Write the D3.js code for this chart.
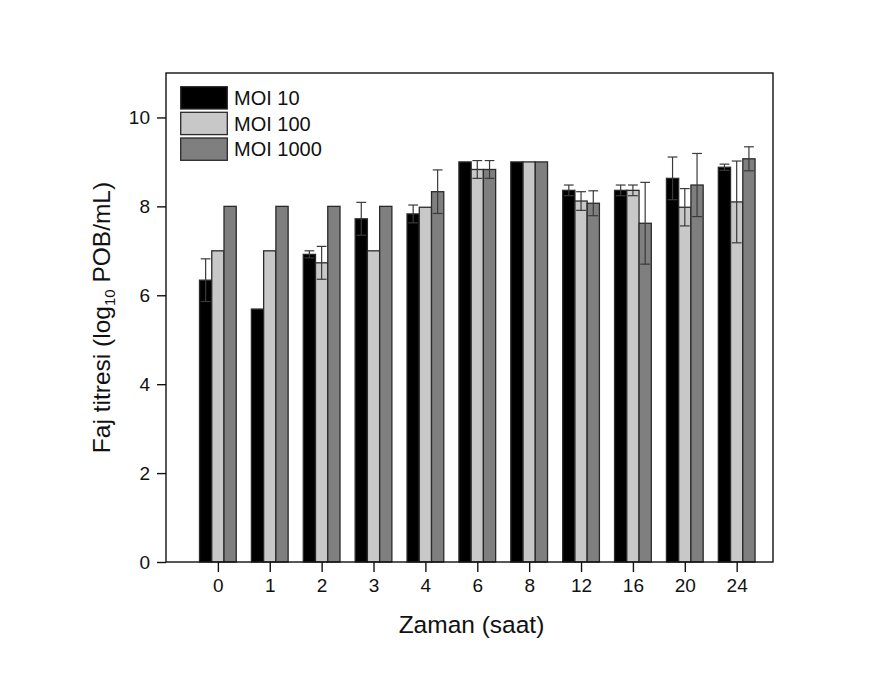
<!DOCTYPE html>
<html>
<head>
<meta charset="utf-8">
<script src="https://cdn.jsdelivr.net/npm/d3@7"></script>
<style>
  html, body { margin: 0; padding: 0; background: #fff; }
  svg { display: block; font-family: "Liberation Sans", Arial, sans-serif; }
</style>
</head>
<body>
<svg id="chart" width="886" height="673"></svg>
<script>
// ---- data ----
const categories = ["0", "1", "2", "3", "4", "6", "8", "12", "16", "20", "24"];
const seriesNames = ["MOI 10", "MOI 100", "MOI 1000"];
const moi10     = [6.34, 5.69, 6.92, 7.72, 7.83, 9.00, 9.00, 8.36, 8.36, 8.63, 8.88];
const moi10Err  = [0.48, 0,    0.08, 0.37, 0.20, 0,    0,    0.12, 0.12, 0.48, 0.07];
const moi100    = [7.00, 7.00, 6.73, 7.00, 7.98, 8.83, 9.00, 8.12, 8.36, 7.98, 8.10];
const moi100Err = [0,    0,    0.37, 0,    0,    0.20, 0,    0.21, 0.12, 0.42, 0.92];
const moi1000   = [8.00, 8.00, 8.00, 8.00, 8.33, 8.83, 9.00, 8.07, 7.62, 8.48, 9.07];
const moi1000Err= [0,    0,    0,    0,    0.49, 0.20, 0,    0.28, 0.92, 0.71, 0.27];
const yTicks = [0, 2, 4, 6, 8, 10];
const xTitle = "Zaman (saat)";

const seriesValues = [moi10, moi100, moi1000];
const seriesErrors = [moi10Err, moi100Err, moi1000Err];
const seriesColors = ["#000000", "#c8c8c8", "#7f7f7f"];

// ---- layout ----
const L = 166, R = 773, T = 73, B = 562;
const svg = d3.select("#chart");

const x = d3.scaleLinear().domain([0, 11.7]).range([L, R]);
const y = d3.scaleLinear().domain([0, 11]).range([B, T]);
const step = x(1) - x(0);
const barW = step * 0.236;

// bars
const bars = [];
categories.forEach((c, i) => {
  seriesValues.forEach((vals, s) => {
    bars.push({ i, s, v: vals[i], e: seriesErrors[s][i] });
  });
});

const g = svg.append("g");
g.selectAll("rect.bar").data(bars).enter().append("rect")
  .attr("class", "bar")
  .attr("x", d => x(d.i + 1) + (d.s - 1.5) * barW)
  .attr("width", barW)
  .attr("y", d => y(d.v))
  .attr("height", d => y(0) - y(d.v))
  .attr("fill", d => seriesColors[d.s])
  .attr("stroke", "#2a2a2a")
  .attr("stroke-width", 1.3);

// error bars
const errs = bars.filter(d => d.e > 0);
const capW = barW * 0.8;
const eg = g.selectAll("g.err").data(errs).enter().append("g").attr("class", "err")
  .attr("stroke", "#3a3a3a").attr("stroke-width", 1.2).attr("fill", "none");
eg.append("line")
  .attr("x1", d => x(d.i + 1) + (d.s - 1) * barW)
  .attr("x2", d => x(d.i + 1) + (d.s - 1) * barW)
  .attr("y1", d => y(d.v - d.e))
  .attr("y2", d => y(d.v + d.e));
eg.append("line")
  .attr("x1", d => x(d.i + 1) + (d.s - 1) * barW - capW / 2)
  .attr("x2", d => x(d.i + 1) + (d.s - 1) * barW + capW / 2)
  .attr("y1", d => y(d.v + d.e))
  .attr("y2", d => y(d.v + d.e));
eg.append("line")
  .attr("x1", d => x(d.i + 1) + (d.s - 1) * barW - capW / 2)
  .attr("x2", d => x(d.i + 1) + (d.s - 1) * barW + capW / 2)
  .attr("y1", d => y(d.v - d.e))
  .attr("y2", d => y(d.v - d.e));

// frame
svg.append("rect")
  .attr("x", L).attr("y", T).attr("width", R - L).attr("height", B - T)
  .attr("fill", "none").attr("stroke", "#111").attr("stroke-width", 1.4);

// axes
const yAxis = d3.axisLeft(y).tickValues(yTicks).tickFormat(d3.format("d"))
  .tickSize(9).tickSizeOuter(0).tickPadding(7);
const yg = svg.append("g").attr("transform", `translate(${L},0)`).call(yAxis);
yg.select(".domain").remove();
yg.selectAll("line").attr("stroke", "#111").attr("stroke-width", 1.4);
yg.selectAll("text").attr("font-size", 19).attr("fill", "#111")
  .attr("font-family", "'Liberation Sans', Arial, sans-serif");

const xAxis = d3.axisBottom(x).tickValues(d3.range(1, categories.length + 1))
  .tickFormat(d => categories[d - 1]).tickSize(10).tickSizeOuter(0).tickPadding(7);
const xg = svg.append("g").attr("transform", `translate(0,${B})`).call(xAxis);
xg.select(".domain").remove();
xg.selectAll("line").attr("stroke", "#111").attr("stroke-width", 1.4);
xg.selectAll("text").attr("font-size", 19).attr("fill", "#111")
  .attr("font-family", "'Liberation Sans', Arial, sans-serif");

// axis titles
svg.append("text")
  .attr("x", (L + R) / 2 + 2).attr("y", 633)
  .attr("text-anchor", "middle").attr("font-size", 24.5).attr("fill", "#111")
  .text(xTitle);

const yt = svg.append("text")
  .attr("transform", `translate(110,${(T + B) / 2}) rotate(-90)`)
  .attr("text-anchor", "middle").attr("font-size", 24.5).attr("fill", "#111");
yt.append("tspan").text("Faj titresi (log");
yt.append("tspan").attr("font-size", 15).attr("dy", 5).text("10");
yt.append("tspan").attr("dy", -5).text(" POB/mL)");

// legend
const lg = svg.append("g");
const legY = [86.7, 112.3, 138];
seriesNames.forEach((name, s) => {
  lg.append("rect")
    .attr("x", 180.7).attr("y", legY[s]).attr("width", 46.6).attr("height", 22.3)
    .attr("fill", seriesColors[s]).attr("stroke", "#2a2a2a").attr("stroke-width", 1.3);
  lg.append("text")
    .attr("x", 234).attr("y", legY[s] + 11.15 + 7.2)
    .attr("font-size", 20).attr("fill", "#111")
    .text(name);
});
</script>
</body>
</html>
